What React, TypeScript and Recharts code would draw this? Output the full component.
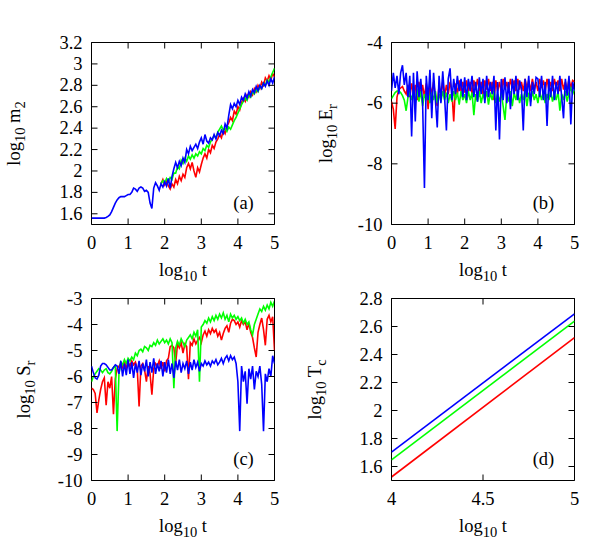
import React from "react"
import { LineChart, Line, XAxis, YAxis, ReferenceArea } from "recharts"

// shared time grid, log10 t
const LOG_T = [
  0, 0.05, 0.1, 0.15, 0.2, 0.25, 0.3, 0.35, 0.4, 0.45,
  0.5, 0.55, 0.6, 0.65, 0.7, 0.75, 0.8, 0.85, 0.9, 0.95,
  1, 1.05, 1.1, 1.15, 1.2, 1.25, 1.3, 1.35, 1.4, 1.45,
  1.5, 1.55, 1.6, 1.65, 1.7, 1.75, 1.8, 1.85, 1.9, 1.95,
  2, 2.05, 2.1, 2.15, 2.2, 2.25, 2.3, 2.35, 2.4, 2.45,
  2.5, 2.55, 2.6, 2.65, 2.7, 2.75, 2.8, 2.85, 2.9, 2.95,
  3, 3.05, 3.1, 3.15, 3.2, 3.25, 3.3, 3.35, 3.4, 3.45,
  3.5, 3.55, 3.6, 3.65, 3.7, 3.75, 3.8, 3.85, 3.9, 3.95,
  4, 4.05, 4.1, 4.15, 4.2, 4.25, 4.3, 4.35, 4.4, 4.45,
  4.5, 4.55, 4.6, 4.65, 4.7, 4.75, 4.8, 4.85, 4.9, 4.95,
  5,
]
const LOG_T_LATE = LOG_T.slice(38) // from 1.9
const LOG_T_D = [4, 5]

const X_TICKS = [0, 1, 2, 3, 4, 5]
const X_TICKS_D = [4, 4.5, 5]
const Y_TICKS_A = [1.6, 1.8, 2, 2.2, 2.4, 2.6, 2.8, 3, 3.2]
const Y_TICKS_B = [-10, -8, -6, -4]
const Y_TICKS_C = [-10, -9, -8, -7, -6, -5, -4, -3]
const Y_TICKS_D = [1.6, 1.8, 2, 2.2, 2.4, 2.6, 2.8]

// (a) log10 m2
const BLUE_A = [
  1.56, 1.56, 1.56, 1.56, 1.56, 1.56, 1.56, 1.56, 1.565, 1.575,
  1.59, 1.62, 1.66, 1.70, 1.73, 1.75, 1.76, 1.76, 1.76, 1.77,
  1.78, 1.78, 1.80, 1.84, 1.83, 1.81, 1.84, 1.85, 1.84, 1.81,
  1.82, 1.80, 1.70, 1.65, 1.84, 1.89, 1.86, 1.82, 1.88, 1.85,
  1.90, 1.86, 1.93, 1.84, 1.95, 2.02, 2.08, 2.03, 2.09, 2.05,
  2.12, 2.08, 2.20, 2.16, 2.23, 2.19, 2.22, 2.25, 2.21, 2.27,
  2.31, 2.25, 2.34, 2.28, 2.26, 2.31, 2.29, 2.34, 2.30, 2.36,
  2.33, 2.38, 2.35, 2.44, 2.40, 2.52, 2.62, 2.58, 2.63, 2.60,
  2.66, 2.62, 2.69, 2.66, 2.72, 2.68, 2.74, 2.70, 2.76, 2.73,
  2.79, 2.75, 2.80, 2.77, 2.82, 2.79, 2.84, 2.80, 2.86, 2.82,
  2.88,
]
const RED_A = [
  1.88, 1.92,
  1.87, 1.91, 1.86, 1.83, 1.88, 1.85, 1.92, 1.88, 1.95, 1.91,
  1.97, 1.94, 2.03, 2.07, 2.02, 2.08, 2.00, 1.94, 2.03, 1.99,
  2.06, 2.12, 2.16, 2.12, 2.20, 2.17, 2.24, 2.21, 2.27, 2.30,
  2.34, 2.31, 2.38, 2.35, 2.42, 2.45, 2.50, 2.47, 2.56, 2.53,
  2.60, 2.57, 2.64, 2.68, 2.65, 2.71, 2.69, 2.74, 2.71, 2.77,
  2.74, 2.80, 2.77, 2.83, 2.80, 2.87, 2.84, 2.89, 2.85, 2.91,
  2.88,
]
const GREEN_A = [
  1.88, 1.91,
  1.89, 1.93, 1.90, 1.94, 1.92, 1.98, 1.98, 2.04, 2.02, 2.10,
  2.07, 2.12, 2.09, 2.14, 2.11, 2.15, 2.12, 2.16, 2.14, 2.18,
  2.16, 2.21, 2.19, 2.24, 2.22, 2.27, 2.30, 2.33, 2.31, 2.36,
  2.39, 2.42, 2.38, 2.40, 2.37, 2.41, 2.39, 2.43, 2.47, 2.50,
  2.54, 2.58, 2.62, 2.65, 2.68, 2.66, 2.71, 2.69, 2.74, 2.72,
  2.76, 2.74, 2.79, 2.77, 2.82, 2.80, 2.85, 2.83, 2.88, 2.92,
  2.96,
]

// (b) log10 Er
const BLUE_B = [
  -5.6, -5.0, -5.5, -5.1, -5.7, -5.0, -4.75, -5.4, -5.0, -5.8,
  -5.1, -7.1, -5.0, -6.6, -4.95, -5.8, -5.2, -6.0, -8.8, -5.1,
  -5.9, -4.9, -6.5, -5.0, -5.9, -6.8, -5.1, -6.0, -4.95, -5.8,
  -6.9, -5.2, -4.85, -5.9, -5.2, -5.7, -5.1, -5.6, -5.2, -5.8,
  -5.15, -5.9, -5.2, -5.6, -5.1, -5.8, -5.3, -5.95, -5.15, -5.7,
  -5.2, -6.0, -5.1, -5.8, -5.3, -5.7, -5.1, -6.9, -5.3, -7.2,
  -5.2, -5.9, -5.15, -6.0, -5.3, -6.2, -5.2, -5.7, -5.1, -5.9,
  -5.25, -5.5, -6.9, -5.2, -5.8, -5.1, -6.1, -5.3, -5.7, -5.15,
  -5.2, -5.8, -5.1, -5.9, -5.3, -6.75, -5.2, -5.8, -5.1, -5.9,
  -5.3, -5.7, -5.1, -5.8, -6.5, -5.2, -5.75, -5.1, -6.7, -5.3,
  -5.6,
]
const RED_B = [
  -5.95, -6.2, -6.85, -5.8, -5.55, -5.5, -5.45, -5.6, -5.7, -5.4,
  -5.8, -5.35, -5.7, -5.4, -5.9, -5.3, -5.75, -5.4, -5.8, -5.35,
  -6.2, -5.4, -5.7, -5.3, -5.8, -6.1, -5.4, -5.7, -5.3, -5.8,
  -5.4, -5.7, -5.3, -5.6, -6.6, -5.35, -5.7, -5.25, -5.6, -5.3,
  -5.65, -5.25, -5.6, -5.3, -5.7, -5.25, -5.55, -5.2, -5.6, -5.3,
  -5.7, -5.25, -5.55, -5.2, -5.6, -5.3, -5.9, -5.25, -5.6, -5.3,
  -5.65, -5.2, -5.55, -5.3, -5.6, -5.2, -5.5, -5.25, -5.6, -5.2,
  -5.55, -5.3, -5.6, -5.2, -5.5, -5.25, -5.6, -5.2, -5.55, -5.3,
  -5.6, -5.2, -5.5, -5.25, -5.6, -5.2, -5.55, -5.3, -5.6, -5.2,
  -5.5, -5.25, -5.6, -5.2, -5.55, -5.3, -5.6, -5.2, -5.5, -5.25,
  -5.3,
]
const GREEN_B = [
  -5.85, -5.75, -5.65, -5.6, -5.6, -5.65, -5.75, -5.9, -6.25, -5.8,
  -5.65, -5.9, -5.6, -6.0, -5.55, -5.95, -5.6, -6.1, -5.7, -5.9,
  -5.55, -6.0, -5.65, -5.9, -5.6, -6.0, -5.7, -5.95, -5.6, -5.9,
  -5.65, -6.0, -5.7, -5.95, -5.6, -5.9, -5.65, -6.05, -5.6, -5.9,
  -5.7, -6.0, -5.6, -5.9, -5.65, -6.4, -5.7, -5.95, -5.6, -6.0,
  -5.7, -5.9, -5.6, -6.05, -5.65, -5.9, -5.6, -6.0, -5.7, -5.95,
  -5.65, -6.1, -6.55, -5.7, -5.95, -5.6, -6.1, -5.65, -5.9, -5.6,
  -6.0, -5.7, -5.9, -5.6, -6.1, -5.65, -5.95, -5.6, -5.9, -5.7,
  -6.0, -5.6, -5.9, -5.65, -6.0, -5.7, -5.9, -5.6, -5.95, -5.7,
  -5.9, -5.6, -6.25, -5.7, -5.9, -5.6, -5.95, -5.65, -5.5, -5.7,
  -5.55,
]

// (c) log10 Sr
const BLUE_C = [
  -5.6, -5.85, -6.05, -6.1, -5.95, -5.6, -5.5, -5.5, -5.55, -5.65,
  -5.75, -5.75, -5.65, -5.55, -5.6, -5.9, -5.4, -6.0, -5.5, -5.95,
  -5.35, -5.9, -5.45, -6.05, -5.5, -5.85, -5.4, -5.95, -5.5, -5.8,
  -5.35, -6.0, -5.45, -5.85, -5.3, -5.9, -5.5, -5.8, -5.4, -6.0,
  -5.45, -5.85, -5.35, -5.9, -5.5, -6.05, -5.4, -5.75, -5.35, -5.85,
  -5.5, -5.7, -5.4, -5.9, -5.45, -5.75, -5.35, -5.65, -5.45, -5.8,
  -5.5, -5.6, -5.4, -5.55, -5.45, -5.6, -5.4, -5.5, -5.35, -5.55,
  -5.45, -5.3, -5.5, -5.3, -5.2, -5.4, -5.2, -5.35, -5.25, -5.5,
  -6.2, -8.1, -5.6, -6.2, -5.8, -7.05, -5.7, -6.1, -5.6, -6.5,
  -5.8, -6.0, -5.6, -6.3, -8.1, -5.9, -6.2, -5.7, -6.0, -5.2,
  -5.5,
]
const RED_C = [
  -6.45, -6.5, -6.65, -7.4, -6.9, -6.5, -6.2, -6.05, -7.1, -6.2,
  -6.45, -6.0, -7.45, -6.1, -5.7, -5.6, -5.5, -5.65, -5.4, -5.7,
  -5.45, -5.6, -5.4, -5.55, -5.45, -5.7, -7.15, -5.6, -5.5, -5.75,
  -6.2, -5.6, -5.9, -6.7, -5.7, -5.5, -5.6, -5.4, -5.7, -5.45,
  -5.8, -5.4, -5.3, -4.85, -4.8, -4.9, -5.5, -4.75, -4.9, -4.7,
  -5.1, -4.75, -4.85, -6.1, -4.7, -4.8, -4.55, -4.75, -4.6, -4.5,
  -4.7, -4.4, -4.25, -4.45, -4.2, -4.35, -4.15, -4.3, -4.2, -4.45,
  -4.3, -4.6, -4.35, -4.15, -4.05, -4.3, -3.95, -3.8, -3.85, -4.0,
  -3.9, -4.1, -3.85, -4.0, -3.9, -4.2, -3.95, -4.3, -4.5, -4.9,
  -5.25, -4.3, -4.0, -3.75, -4.2, -4.8, -3.8, -3.65, -3.9, -3.7,
  -5.0,
]
const GREEN_C = [
  -6.2, -6.0, -5.9, -5.8, -5.7, -5.75, -5.85, -5.75, -5.7, -5.85,
  -5.9, -5.8, -5.65, -5.6, -8.1, -5.9, -5.45, -5.55, -5.35, -5.5,
  -5.3, -5.4, -5.25, -5.35, -5.1, -5.2, -5.0, -4.95, -5.05, -4.85,
  -4.9, -5.0, -4.8, -4.85, -4.7, -4.8, -4.6, -4.75, -4.65, -4.55,
  -4.7, -4.6, -4.75, -4.55, -4.7, -6.45, -4.9, -4.65, -4.8, -4.55,
  -4.7, -4.85, -4.6, -4.5, -4.4, -4.55, -4.3, -4.45, -4.2, -6.2,
  -4.1, -4.0, -3.85, -3.95, -3.75, -3.9, -3.7, -3.85, -3.65, -3.8,
  -3.6, -3.75, -3.55, -3.8, -3.65, -3.9, -3.6, -3.75, -3.65, -3.8,
  -3.7, -3.85, -3.75, -3.95, -3.8, -4.0, -3.9, -4.2, -4.4, -4.0,
  -3.8, -3.6, -3.4, -3.5, -3.3, -3.45, -3.25, -3.4, -3.15, -3.3,
  -3.1,
]

// (d) log10 Tc
const RED_D = [1.525, 2.52]
const GREEN_D = [1.648, 2.638]
const BLUE_D = [1.703, 2.69]

const RED = "#ff0000"
const GREEN = "#00ff00"
const BLUE = "#0000ff"

const PLOT_W = 183
const PLOT_H = 182
const TICK_LEN = 6

const font = {
  fontFamily: '"Liberation Serif", "Times New Roman", serif',
  fontSize: 18.5,
  fill: "#000",
}

const toPoints = (xs: number[], ys: number[]) => ys.map((v, i) => ({ t: xs[i], v }))

function LogTitle({ sym, sub }: { sym: string; sub?: string }) {
  return (
    <>
      log
      <tspan dy={5} fontSize={14.5}>10</tspan>
      <tspan dy={-5}>{" " + sym}</tspan>
      {sub ? <tspan dy={5} fontSize={14.5}>{sub}</tspan> : null}
    </>
  )
}

type Series = { xs: number[]; ys: number[]; color: string }

type PanelProps = {
  left: number
  top: number
  height: number
  plotLeft: number
  plotTop: number
  xDomain: number[]
  xTicks: number[]
  yDomain: number[]
  yTicks: number[]
  lines: Series[]
  ySym: string
  ySub: string
  yTitleX: number
  tag: string
}

function Panel(p: PanelProps) {
  const width = 305
  const margin = { top: p.plotTop, right: width - p.plotLeft - PLOT_W, bottom: 0, left: 0 }
  const xAxisHeight = p.height - p.plotTop - PLOT_H
  const plotRight = p.plotLeft + PLOT_W
  const plotBottom = p.plotTop + PLOT_H

  const xTick = (t: any) => (
    <g>
      <line x1={t.x} y1={t.y} x2={t.x} y2={t.y - TICK_LEN} stroke="#000" />
      <line x1={t.x} y1={t.y - PLOT_H} x2={t.x} y2={t.y - PLOT_H + TICK_LEN} stroke="#000" />
      <text x={t.x} y={t.y + 24} textAnchor="middle" style={font}>{String(t.payload.value)}</text>
    </g>
  )
  const yTick = (t: any) => (
    <g>
      <line x1={t.x} y1={t.y} x2={t.x + TICK_LEN} y2={t.y} stroke="#000" />
      <line x1={t.x + PLOT_W} y1={t.y} x2={t.x + PLOT_W - TICK_LEN} y2={t.y} stroke="#000" />
      <text x={t.x - 9} y={t.y + 6} textAnchor="end" style={font}>{String(t.payload.value)}</text>
    </g>
  )

  return (
    <div style={{ position: "absolute", left: p.left, top: p.top }}>
      <LineChart width={width} height={p.height} margin={margin}>
        <XAxis
          type="number"
          dataKey="t"
          domain={p.xDomain}
          ticks={p.xTicks}
          interval={0}
          allowDataOverflow
          axisLine={false}
          tickLine={false}
          tickSize={0}
          tickMargin={0}
          height={xAxisHeight}
          tick={xTick}
          label={() => (
            <g>
              <text x={p.plotLeft + PLOT_W / 2} y={plotBottom + 51} textAnchor="middle" style={font}>
                <LogTitle sym="t" />
              </text>
              <text x={plotRight - 31} y={plotBottom - 16} textAnchor="middle" style={font}>
                {p.tag}
              </text>
            </g>
          )}
        />
        <YAxis
          type="number"
          domain={p.yDomain}
          ticks={p.yTicks}
          interval={0}
          allowDataOverflow
          axisLine={false}
          tickLine={false}
          tickSize={0}
          tickMargin={0}
          width={p.plotLeft}
          tick={yTick}
          label={() => (
            <text
              transform={`translate(${p.yTitleX}, ${p.plotTop + PLOT_H / 2}) rotate(-90)`}
              textAnchor="middle"
              style={font}
            >
              <LogTitle sym={p.ySym} sub={p.ySub} />
            </text>
          )}
        />
        <ReferenceArea
          x1={p.xDomain[0]}
          x2={p.xDomain[1]}
          y1={p.yDomain[0]}
          y2={p.yDomain[1]}
          fill="none"
          stroke="#000"
          strokeWidth={1}
          ifOverflow="visible"
        />
        {p.lines.map((s, i) => (
          <Line
            key={i}
            data={toPoints(s.xs, s.ys)}
            dataKey="v"
            type="linear"
            stroke={s.color}
            strokeWidth={1.6}
            dot={false}
            activeDot={false}
            isAnimationActive={false}
          />
        ))}
      </LineChart>
    </div>
  )
}

export default function App() {
  return (
    <div style={{ position: "absolute", left: 0, top: 0, width: 610, height: 555, background: "#fff" }}>
      <Panel
        left={0}
        top={0}
        height={292}
        plotLeft={91.5}
        plotTop={42.5}
        xDomain={[0, 5]}
        xTicks={X_TICKS}
        yDomain={[1.5, 3.2]}
        yTicks={Y_TICKS_A}
        lines={[
          { xs: LOG_T_LATE, ys: RED_A, color: RED },
          { xs: LOG_T_LATE, ys: GREEN_A, color: GREEN },
          { xs: LOG_T, ys: BLUE_A, color: BLUE },
        ]}
        ySym="m"
        ySub="2"
        yTitleX={20}
        tag="(a)"
      />
      <Panel
        left={305}
        top={0}
        height={292}
        plotLeft={86.5}
        plotTop={42.5}
        xDomain={[0, 5]}
        xTicks={X_TICKS}
        yDomain={[-10, -4]}
        yTicks={Y_TICKS_B}
        lines={[
          { xs: LOG_T, ys: RED_B, color: RED },
          { xs: LOG_T, ys: GREEN_B, color: GREEN },
          { xs: LOG_T, ys: BLUE_B, color: BLUE },
        ]}
        ySym="E"
        ySub="r"
        yTitleX={26.5}
        tag="(b)"
      />
      <Panel
        left={0}
        top={277}
        height={278}
        plotLeft={91.5}
        plotTop={21.5}
        xDomain={[0, 5]}
        xTicks={X_TICKS}
        yDomain={[-10, -3]}
        yTicks={Y_TICKS_C}
        lines={[
          { xs: LOG_T, ys: RED_C, color: RED },
          { xs: LOG_T, ys: GREEN_C, color: GREEN },
          { xs: LOG_T, ys: BLUE_C, color: BLUE },
        ]}
        ySym="S"
        ySub="r"
        yTitleX={30}
        tag="(c)"
      />
      <Panel
        left={305}
        top={277}
        height={278}
        plotLeft={86.5}
        plotTop={21.5}
        xDomain={[4, 5]}
        xTicks={X_TICKS_D}
        yDomain={[1.5, 2.8]}
        yTicks={Y_TICKS_D}
        lines={[
          { xs: LOG_T_D, ys: RED_D, color: RED },
          { xs: LOG_T_D, ys: GREEN_D, color: GREEN },
          { xs: LOG_T_D, ys: BLUE_D, color: BLUE },
        ]}
        ySym="T"
        ySub="c"
        yTitleX={15.5}
        tag="(d)"
      />
    </div>
  )
}
